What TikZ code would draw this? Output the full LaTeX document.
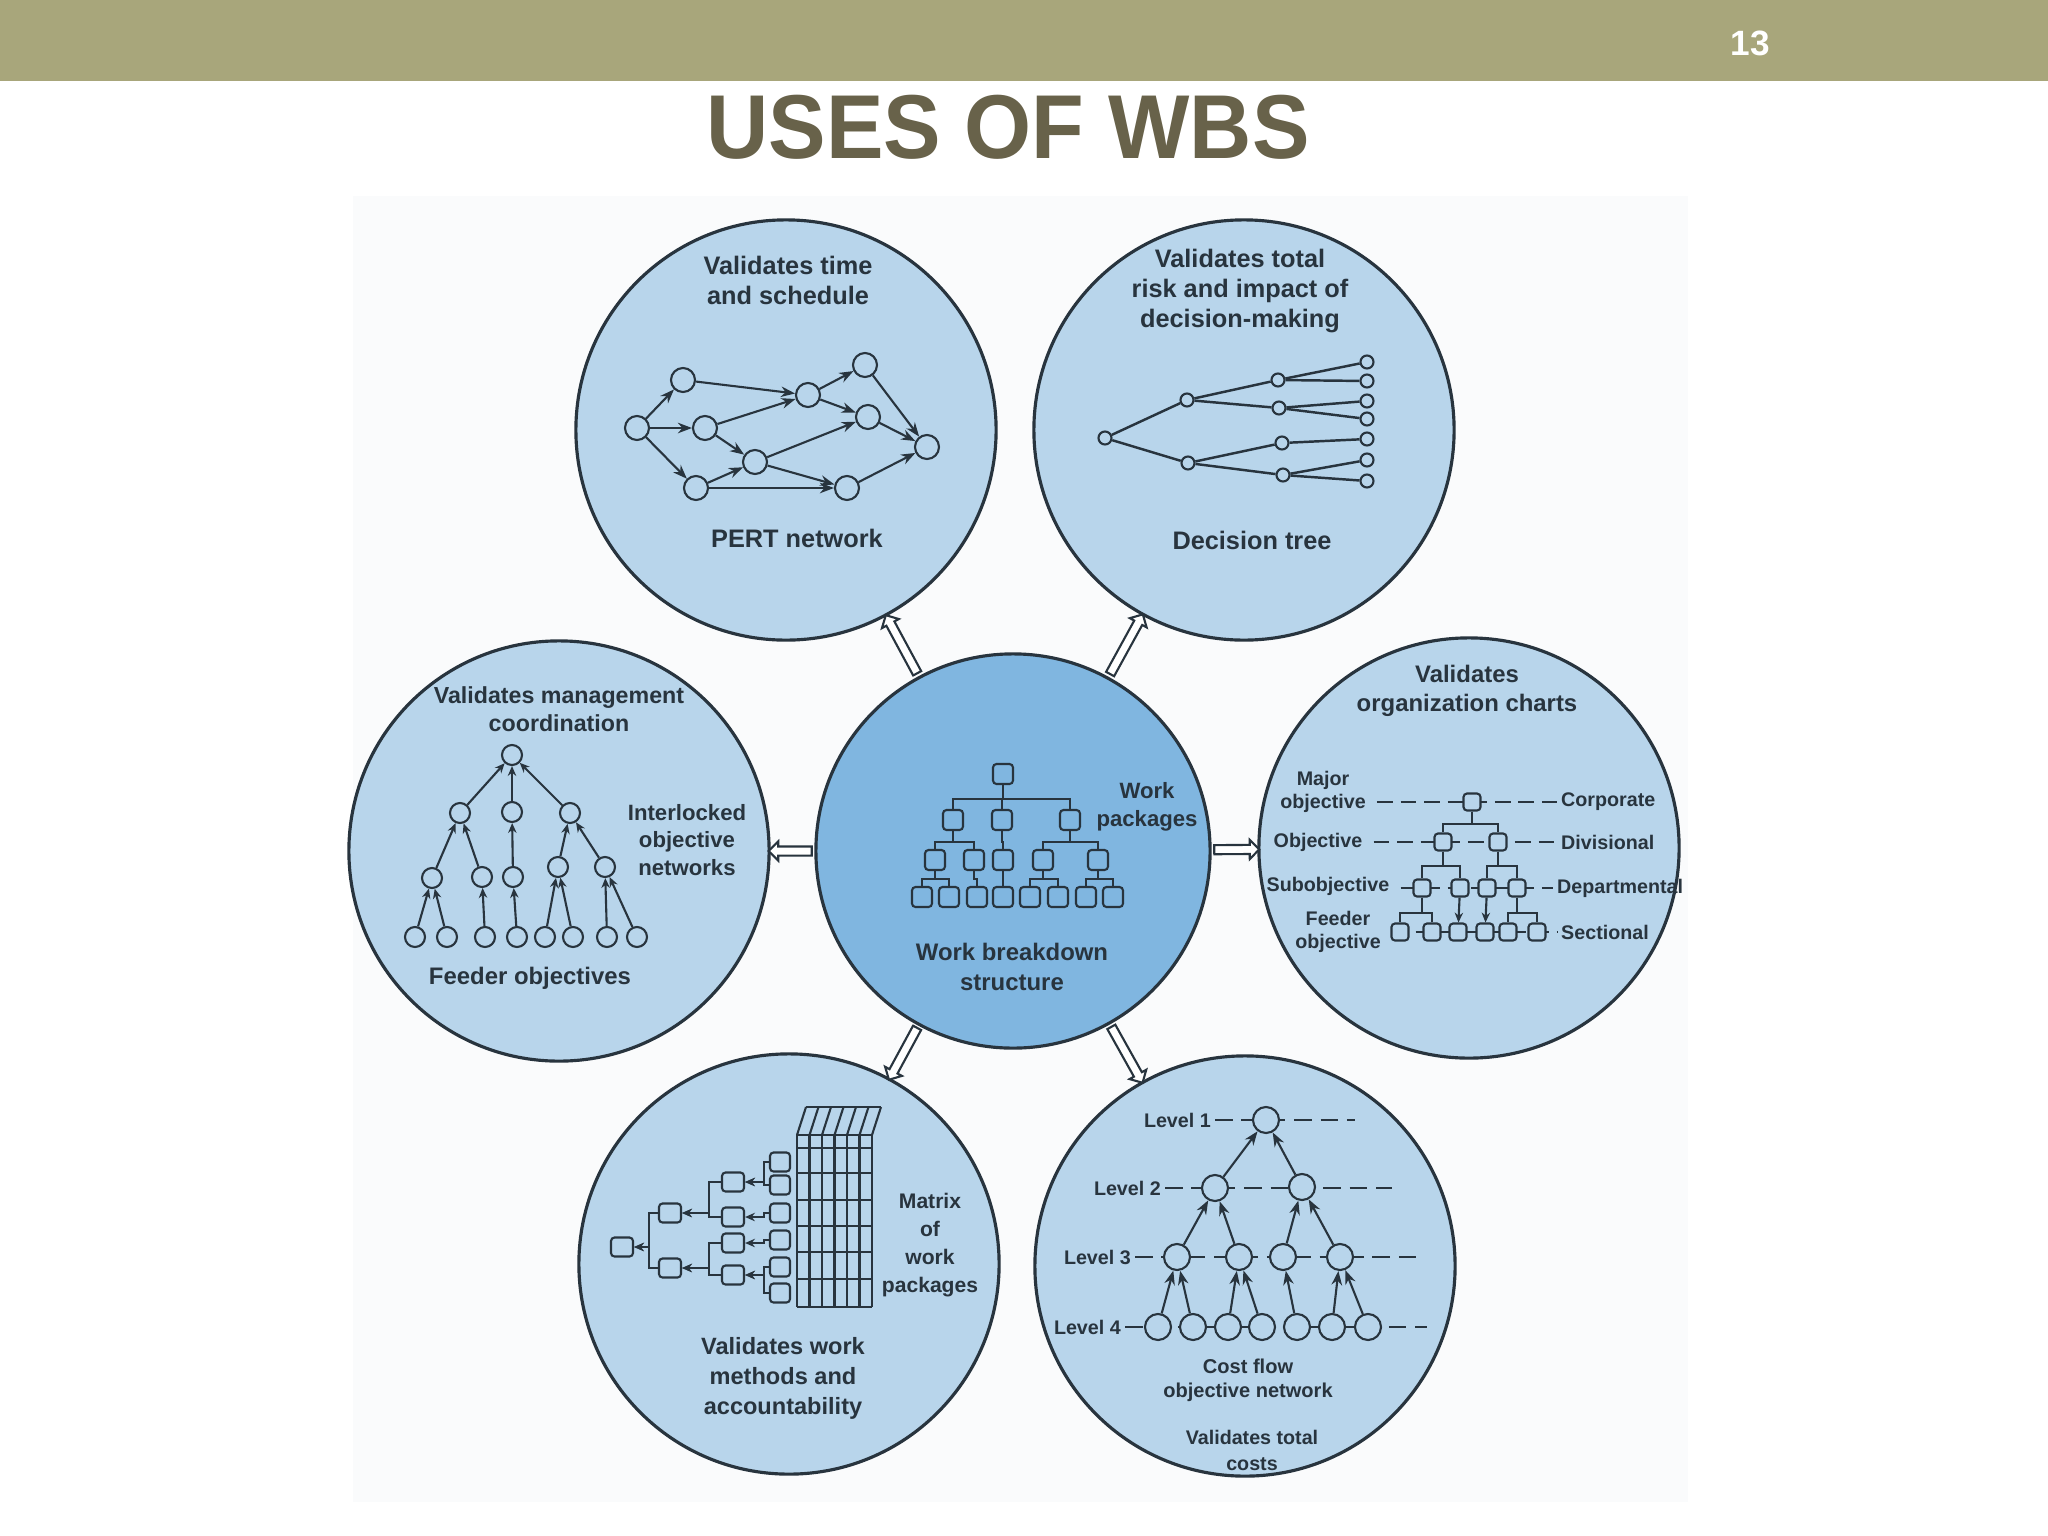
\documentclass[tikz,border=0pt]{standalone}
\usepackage{fontspec}
\setmainfont{Liberation Sans}
\usetikzlibrary{shapes.arrows, arrows.meta}

\definecolor{barc}{RGB}{168,166,123}
\definecolor{titlec}{RGB}{104,98,74}
\definecolor{outerc}{RGB}{184,213,235}
\definecolor{innerc}{RGB}{128,182,224}
\definecolor{inkc}{RGB}{40,52,62}
\definecolor{paperc}{RGB}{250,251,252}

\tikzset{
  bigc/.style = {circle, draw=inkc, line width=0.9pt, fill=outerc, minimum size=4.2cm, inner sep=0pt},
  hollow/.style = {single arrow, draw=inkc, fill=white, line width=0.6pt, minimum height=#1,
    inner xsep=0pt, inner ysep=0.035cm, single arrow head extend=0.05cm, sloped, allow upside down},
  txt/.style 2 args = {font=\bfseries\fontsize{#1}{#2}\selectfont, text=inkc, align=center, inner sep=1pt},
  rn/.style = {circle, draw=inkc, line width=0.6pt, fill=outerc, inner sep=0pt, minimum size=#1},
  bx/.style = {rectangle, draw=inkc, line width=0.6pt, fill=outerc, rounded corners=1pt, inner sep=0pt, minimum size=#1},
  arr/.style = {draw=inkc, line width=0.6pt, -{Stealth[length=4pt,width=3pt]}},
  sarr/.style = {draw=inkc, line width=0.6pt, -{Stealth[length=2.8pt,width=2.4pt]}},
  tree/.style = {draw=inkc, line width=0.6pt},
  lvl/.style = {draw=inkc, line width=0.6pt, dash pattern=on 4.5pt off 2.2pt},
}

\begin{document}
\begin{tikzpicture}[x=0.01cm, y=-0.01cm]
\useasboundingbox (0,0) rectangle (2048,1536);

% slide header
\fill[barc] (0,0) rectangle (2048,81);
\node[text=white, font=\bfseries\fontsize{10}{12}\selectfont] (pagenum) at (1750,43) {13};
\node[text=titlec, font=\bfseries\fontsize{25.8}{30}\selectfont] (title) at (1008,127) {\scalebox{0.95}[1]{USES OF WBS}};
\fill[paperc] (353,196) rectangle (1688,1502);

% the seven circles
\node[bigc] (pert) at (786,430) {};
\node[bigc] (dec) at (1244,430) {};
\node[bigc] (mgmt) at (559,851) {};
\node[bigc, fill=innerc, minimum size=3.94cm] (wbs) at (1013,851) {};
\node[bigc] (org) at (1469,848) {};
\node[bigc] (mtx) at (789,1264) {};
\node[bigc] (cost) at (1245,1266) {};

\path (wbs) -- node[hollow=0.66cm] {} (pert);
\path (wbs) -- node[hollow=0.68cm] {} (dec);
\path (wbs) -- node[hollow=0.43cm] {} (mgmt);
\path (wbs) -- node[hollow=0.45cm] {} (org);
\path (wbs) -- node[hollow=0.59cm] {} (mtx);
\path (wbs) -- node[hollow=0.64cm] {} (cost);

% PERT network
\node[txt={7.2}{8.5}] (pertt) at (788,280) {Validates time\\and schedule};
\node[txt={7.2}{8.5}] (pertl) at (797,538) {PERT network};
\node[rn=0.24cm] (p1) at (637,428) {};
\node[rn=0.24cm] (p2) at (683,380) {};
\node[rn=0.24cm] (p3) at (705,428) {};
\node[rn=0.24cm] (p4) at (696,488) {};
\node[rn=0.24cm] (p5) at (755,462) {};
\node[rn=0.24cm] (p6) at (808,395) {};
\node[rn=0.24cm] (p7) at (865,365) {};
\node[rn=0.24cm] (p8) at (868,417) {};
\node[rn=0.24cm] (p9) at (847,488) {};
\node[rn=0.24cm] (p10) at (927,447) {};
\foreach \a/\b in {p1/p2,p1/p3,p1/p4,p2/p6,p3/p6,p3/p5,p4/p5,p4/p9,p5/p8,p5/p9,p6/p7,p6/p8,p7/p10,p8/p10,p9/p10}
  \draw[arr] (\a) -- (\b);

% decision tree
\node[txt={7.2}{8.5}] (dect) at (1240,291) {Validates total\\risk and impact of\\decision-making};
\node[txt={7.2}{8.5}] (decl) at (1252,540) {Decision tree};
\node[rn=0.13cm] (d0) at (1105,438) {};
\node[rn=0.13cm] (d1) at (1187,400) {};
\node[rn=0.13cm] (d2) at (1188,463) {};
\node[rn=0.13cm] (e1) at (1278,380) {};
\node[rn=0.13cm] (e2) at (1279,408) {};
\node[rn=0.13cm] (e3) at (1282,443) {};
\node[rn=0.13cm] (e4) at (1283,475) {};
\foreach \i/\y in {1/362,2/381,3/401,4/419,5/439,6/460,7/481}
  \node[rn=0.13cm] (f\i) at (1367,\y) {};
\foreach \a/\b in {d0/d1,d0/d2,d1/e1,d1/e2,d2/e3,d2/e4,e1/f1,e1/f2,e2/f3,e2/f4,e3/f5,e4/f6,e4/f7}
  \draw[tree, line width=0.7pt] (\a) -- (\b);

% management coordination
\node[txt={6.6}{7.9}] (mgmtt) at (559,709) {Validates management\\coordination};
\node[txt={6.3}{7.7}] (mgmtr) at (687,840) {Interlocked\\objective\\networks};
\node[txt={6.8}{8}] (mgmtl) at (530,978) {Feeder objectives};
\node[rn=0.2cm] (m0) at (512,755) {};
\node[rn=0.2cm] (m1) at (460,813) {};
\node[rn=0.2cm] (m2) at (512,812) {};
\node[rn=0.2cm] (m3) at (570,813) {};
\node[rn=0.2cm] (m4) at (432,878) {};
\node[rn=0.2cm] (m5) at (482,877) {};
\node[rn=0.2cm] (m6) at (513,877) {};
\node[rn=0.2cm] (m7) at (558,867) {};
\node[rn=0.2cm] (m8) at (605,867) {};
\foreach \i/\x in {9/415,10/447,11/485,12/517,13/545,14/573,15/607,16/637}
  \node[rn=0.2cm] (m\i) at (\x,937) {};
\foreach \a/\b in {m1/m0,m2/m0,m3/m0,m4/m1,m5/m1,m6/m2,m7/m3,m8/m3,m9/m4,m10/m4,m11/m5,m12/m6,m13/m7,m14/m7,m15/m8,m16/m8}
  \draw[sarr] (\a) -- (\b);

% work breakdown structure
\node[txt={6.3}{8}] (wbsr) at (1147,807) {Work\\packages};
\node[txt={6.8}{8.4}] (wbsl) at (1012,967) {Work breakdown\\structure};
\node[bx=0.2cm, fill=innerc] (w0) at (1003,774) {};
\node[bx=0.2cm, fill=innerc] (w1) at (953,820) {};
\node[bx=0.2cm, fill=innerc] (w2) at (1002,820) {};
\node[bx=0.2cm, fill=innerc] (w3) at (1070,820) {};
\node[bx=0.2cm, fill=innerc] (w4) at (935,860) {};
\node[bx=0.2cm, fill=innerc] (w5) at (974,860) {};
\node[bx=0.2cm, fill=innerc] (w6) at (1003,860) {};
\node[bx=0.2cm, fill=innerc] (w7) at (1043,860) {};
\node[bx=0.2cm, fill=innerc] (w8) at (1098,860) {};
\foreach \i/\x in {9/922,10/949,11/977,12/1003,13/1030,14/1058,15/1086,16/1113}
  \node[bx=0.2cm, fill=innerc] (w\i) at (\x,897) {};
\foreach \c in {w1,w2,w3}
  \draw[tree] (w0.south) -- ++(0,14) -| (\c.north);
\foreach \p/\c in {w1/w4,w1/w5,w2/w6,w3/w7,w3/w8}
  \draw[tree] (\p.south) -- ++(0,11) -| (\c.north);
\foreach \p/\c in {w4/w9,w4/w10,w5/w11,w6/w12,w7/w13,w7/w14,w8/w15,w8/w16}
  \draw[tree] (\p.south) -- ++(0,8) -| (\c.north);

% organization charts
\node[txt={6.8}{8.2}] (orgt) at (1467,691) {Validates\\organization charts};
\node[txt={5.6}{6.6}] (ol1) at (1323,792) {Major\\objective};
\node[txt={5.6}{6.6}] (ol2) at (1318,842) {Objective};
\node[txt={5.6}{6.6}] (ol3) at (1328,886) {Subobjective};
\node[txt={5.6}{6.6}] (ol4) at (1338,932) {Feeder\\objective};
\node[txt={5.6}{6.6}, anchor=west] (or1) at (1557,802) {Corporate};
\node[txt={5.6}{6.6}, anchor=west] (or2) at (1557,842) {Divisional};
\node[txt={5.6}{6.6}, anchor=west] (or3) at (1553,888) {Departmental};
\node[txt={5.6}{6.6}, anchor=west] (or4) at (1557,932) {Sectional};
\foreach \i in {1,2,3,4}
  \draw[lvl, shorten <=2pt] (ol\i.east |- or\i.west) -- (or\i.west);
\node[bx=0.17cm] (o0) at (1472,802) {};
\node[bx=0.17cm] (o1) at (1443,842) {};
\node[bx=0.17cm] (o2) at (1498,842) {};
\node[bx=0.17cm] (o3) at (1422,888) {};
\node[bx=0.17cm] (o4) at (1460,888) {};
\node[bx=0.17cm] (o5) at (1487,888) {};
\node[bx=0.17cm] (o6) at (1517,888) {};
\foreach \i/\x in {7/1400,8/1432,9/1458,10/1485,11/1508,12/1537}
  \node[bx=0.17cm] (o\i) at (\x,932) {};
\foreach \c in {o1,o2}
  \draw[tree] (o0.south) -- ++(0,12) -| (\c.north);
\foreach \p/\c in {o1/o3,o1/o4,o2/o5,o2/o6}
  \draw[tree] (\p.south) -- ++(0,14) -| (\c.north);
\foreach \p/\c in {o3/o7,o3/o8,o6/o11,o6/o12}
  \draw[tree] (\p.south) -- ++(0,15) -| (\c.north);
\draw[sarr] (o4) -- (o9);
\draw[sarr] (o5) -- (o10);

% matrix of work packages
\node[txt={6}{8}] (mtxr) at (930,1245) {Matrix\\of\\work\\packages};
\node[txt={6.7}{8.5}] (mtxl) at (783,1378) {Validates work\\methods and\\accountability};
\foreach \x in {797,809.5,822,834.5,847,859.5,872} {
  \draw[tree, line width=0.8pt] (\x,1135) -- (\x,1307);
  \draw[tree] (\x,1135) -- (\x+9,1107);
}
\foreach \y in {1135,1148,1173,1200,1226,1252,1279,1307}
  \draw[tree, line width=0.8pt] (797,\y) -- (872,\y);
\draw[tree] (806,1107) -- (881,1107);
\node[bx=0.2cm, minimum width=0.22cm, minimum height=0.19cm] (x0) at (622,1247) {};
\node[bx=0.2cm, minimum width=0.22cm, minimum height=0.19cm] (x1) at (670,1213) {};
\node[bx=0.2cm, minimum width=0.22cm, minimum height=0.19cm] (x2) at (670,1268) {};
\node[bx=0.2cm, minimum width=0.22cm, minimum height=0.19cm] (x3) at (733,1182) {};
\node[bx=0.2cm, minimum width=0.22cm, minimum height=0.19cm] (x4) at (733,1217) {};
\node[bx=0.2cm, minimum width=0.22cm, minimum height=0.19cm] (x5) at (733,1243) {};
\node[bx=0.2cm, minimum width=0.22cm, minimum height=0.19cm] (x6) at (733,1275) {};
\foreach \i/\y in {7/1162,8/1185,9/1213,10/1240,11/1267,12/1293}
  \node[bx=0.2cm, minimum width=0.2cm, minimum height=0.19cm] (x\i) at (780,\y) {};
\foreach \c in {x1,x2}
  \draw[sarr] (\c.west) -- ++(-9,0) |- (x0.east);
\foreach \p/\c in {x1/x3,x1/x4,x2/x5,x2/x6}
  \draw[sarr] (\c.west) -- ++(-12,0) |- (\p.east);
\foreach \p/\c in {x3/x7,x3/x8,x4/x9,x5/x10,x6/x11,x6/x12}
  \draw[sarr] (\c.west) -- ++(-5,0) |- (\p.east);

% cost flow objective network
\node[txt={5.7}{6.8}] (costl) at (1248,1380) {Cost flow\\objective network};
\node[txt={5.6}{7.4}] (costt) at (1252,1450) {Validates total\\costs};
\node[txt={5.6}{6.6}, anchor=east] (lv1) at (1215,1120) {Level 1};
\node[txt={5.6}{6.6}, anchor=east] (lv2) at (1165,1188) {Level 2};
\node[txt={5.6}{6.6}, anchor=east] (lv3) at (1135,1257) {Level 3};
\node[txt={5.6}{6.6}, anchor=east] (lv4) at (1125,1327) {Level 4};
\coordinate (ce1) at (1355,1120);
\coordinate (ce2) at (1392,1188);
\coordinate (ce3) at (1420,1257);
\coordinate (ce4) at (1427,1327);
\foreach \i in {1,2,3,4}
  \draw[lvl, dash pattern=on 5pt off 2.5pt] (lv\i.east) -- (ce\i);
\node[rn=0.26cm] (c1) at (1266,1120) {};
\node[rn=0.26cm] (c2) at (1215,1188) {};
\node[rn=0.26cm] (c3) at (1302,1187) {};
\node[rn=0.26cm] (c4) at (1177,1257) {};
\node[rn=0.26cm] (c5) at (1239,1257) {};
\node[rn=0.26cm] (c6) at (1283,1257) {};
\node[rn=0.26cm] (c7) at (1340,1257) {};
\foreach \i/\x in {8/1158,9/1193,10/1228,11/1262,12/1297,13/1332,14/1368}
  \node[rn=0.26cm] (c\i) at (\x,1327) {};
\foreach \a/\b in {c2/c1,c3/c1,c4/c2,c5/c2,c6/c3,c7/c3,c8/c4,c9/c4,c10/c5,c11/c5,c12/c6,c13/c7,c14/c7}
  \draw[arr] (\a) -- (\b);

\end{tikzpicture}
\end{document}
